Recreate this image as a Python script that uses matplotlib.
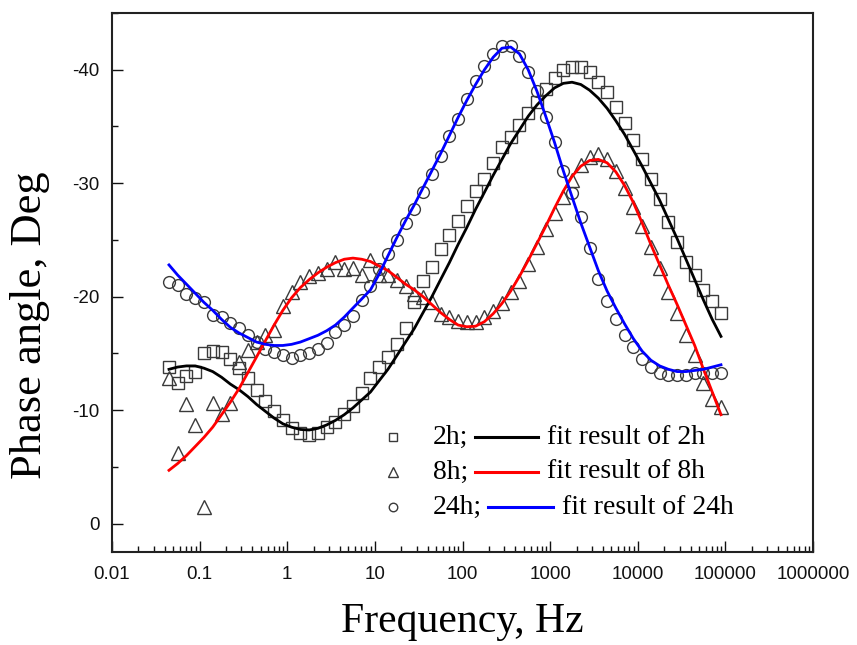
import numpy as np
import matplotlib
matplotlib.use("Agg")
import matplotlib.pyplot as plt
from matplotlib.lines import Line2D
from matplotlib.ticker import LogLocator, MultipleLocator, NullFormatter

plt.rcParams["axes.unicode_minus"] = False
plt.rcParams["font.family"] = "Liberation Sans"

# measured frequencies (Hz), shared by all three samples and the fits
FREQ = [0.0447, 0.0562, 0.0708, 0.0891,
        0.112, 0.141, 0.178, 0.224, 0.282, 0.355, 0.447, 0.562, 0.708, 0.891,
        1.12, 1.41, 1.78, 2.24, 2.82, 3.55, 4.47, 5.62, 7.08, 8.91,
        11.2, 14.1, 17.8, 22.4, 28.2, 35.5, 44.7, 56.2, 70.8, 89.1,
        112, 141, 178, 224, 282, 355, 447, 562, 708, 891,
        1122, 1413, 1778, 2239, 2818, 3548, 4467, 5623, 7079, 8913,
        11220, 14125, 17783, 22387, 28184, 35481, 44668, 56234, 70795, 89125]

# phase angle (deg), measured
P_2H = [-13.8, -12.4, -13.0, -13.4,
        -15.0, -15.2, -15.1, -14.5, -13.7, -12.8, -11.8, -10.8, -9.9, -9.1,
        -8.4, -8.0, -7.8, -8.0, -8.5, -9.0, -9.7, -10.4, -11.5, -12.8,
        -13.8, -14.7, -15.8, -17.2, -19.5, -21.4, -22.6, -24.2, -25.4, -26.7,
        -28.0, -29.3, -30.4, -31.8, -33.2, -34.1, -35.1, -36.2, -37.2, -38.3,
        -39.3, -40.0, -40.2, -40.2, -39.8, -38.9, -38.0, -36.7, -35.3, -33.8,
        -32.1, -30.4, -28.6, -26.6, -24.8, -23.1, -21.9, -20.6, -19.6, -18.6]
P_8H = [-12.8, -6.2, -10.5, -8.7,
        -1.5, -10.6, -9.7, -10.6, -14.2, -15.3, -16.0, -16.6, -17.1, -19.2,
        -20.4, -21.3, -21.8, -22.1, -22.4, -23.1, -22.4, -22.5, -21.9, -23.2,
        -21.9, -21.9, -21.5, -20.9, -20.2, -20.0, -19.5, -18.5, -18.2, -17.9,
        -17.8, -17.8, -18.2, -18.7, -19.4, -20.4, -21.4, -22.9, -24.4, -26.0,
        -27.4, -28.8, -30.3, -31.6, -32.3, -32.6, -32.1, -31.1, -29.6, -27.9,
        -26.2, -24.4, -22.5, -20.4, -18.6, -16.6, -14.9, -12.4, -11.0, -10.3]
P_24H = [-21.3, -21.0, -20.2, -19.9,
         -19.5, -18.4, -18.2, -17.7, -17.2, -16.6, -16.0, -15.4, -15.1, -14.9,
         -14.6, -14.9, -15.0, -15.4, -15.9, -16.9, -17.5, -18.3, -19.7, -20.9,
         -22.4, -23.8, -25.0, -26.5, -27.7, -29.2, -30.8, -32.4, -34.2, -35.7,
         -37.4, -39.0, -40.3, -41.4, -42.1, -42.1, -41.2, -39.8, -38.1, -35.8,
         -33.6, -31.1, -29.1, -27.0, -24.3, -21.6, -19.6, -18.0, -16.6, -15.6,
         -14.5, -13.8, -13.3, -13.1, -13.1, -13.1, -13.3, -13.3, -13.3, -13.3]

# equivalent-circuit fit results
FIT_2H = [-13.6, -13.8, -13.9, -13.9,
          -13.7, -13.4, -12.9, -12.3, -11.8, -11.2, -10.5, -9.9, -9.3, -8.8,
          -8.5, -8.3, -8.25, -8.4, -8.7, -9.1, -9.6, -10.2, -10.9, -11.6,
          -12.6, -13.6, -14.8, -16.0, -17.2, -18.6, -20.0, -21.5, -23.0, -24.6,
          -26.1, -27.7, -29.2, -30.7, -32.1, -33.5, -34.7, -35.9, -36.9, -37.7,
          -38.4, -38.8, -38.9, -38.7, -38.2, -37.5, -36.6, -35.5, -34.3, -32.9,
          -31.5, -30.0, -28.5, -26.8, -25.1, -23.3, -21.5, -19.7, -18.0, -16.5]
FIT_8H = [-4.7, -5.3, -6.0, -6.8,
          -7.6, -8.5, -9.6, -10.7, -11.9, -13.3, -14.7, -16.1, -17.5, -18.8,
          -19.9, -20.8, -21.5, -22.1, -22.6, -23.0, -23.3, -23.4, -23.3, -23.1,
          -22.7, -22.3, -21.7, -21.1, -20.6, -20.0, -19.3, -18.6, -18.0, -17.5,
          -17.35, -17.4, -17.8, -18.5, -19.4, -20.5, -21.8, -23.2, -24.7, -26.2,
          -27.8, -29.3, -30.6, -31.5, -32.0, -32.1, -31.8, -31.0, -29.8, -28.3,
          -26.5, -24.6, -22.8, -21.0, -19.3, -17.5, -15.7, -13.6, -11.6, -9.6]
FIT_24H = [-22.8, -21.9, -21.1, -20.3,
           -19.5, -18.8, -18.0, -17.3, -16.8, -16.4, -16.0, -15.8, -15.7, -15.7,
           -15.8, -16.0, -16.3, -16.6, -17.0, -17.5, -18.2, -19.0, -19.8, -20.6,
           -22.0, -23.6, -25.2, -26.7, -28.1, -29.6, -31.1, -32.6, -34.2, -35.8,
           -37.3, -38.7, -40.0, -41.1, -41.9, -42.0, -41.4, -40.0, -38.1, -35.9,
           -33.6, -31.1, -28.8, -26.5, -24.4, -22.3, -20.5, -19.0, -17.6, -16.3,
           -15.2, -14.4, -13.9, -13.6, -13.4, -13.4, -13.5, -13.6, -13.8, -14.0]

XTICKS = [0.01, 0.1, 1, 10, 100, 1000, 10000, 100000, 1000000]
XTICKLABELS = ["0.01", "0.1", "1", "10", "100", "1000", "10000", "100000", "1000000"]
YTICKS = [0, -10, -20, -30, -40]

# name, data, fit, marker, marker size, fit colour
SAMPLES = [("2h", P_2H, FIT_2H, "s", 8.0, "black"),
           ("8h", P_8H, FIT_8H, "^", 9.5, "#ff0000"),
           ("24h", P_24H, FIT_24H, "o", 8.5, "#0000ff")]

W, H = 857, 645
fig = plt.figure(figsize=(W / 100, H / 100), dpi=100)
ax = fig.add_axes([112 / W, 1 - 552 / H, (813 - 112) / W, (552 - 13) / H])

EDGE = "#3a3a3a"
for name, p, fit, mk, ms, col in SAMPLES:
    ax.plot(FREQ, p, ls="none", marker=mk, ms=ms, mfc="none", mec=EDGE,
            mew=1.0, zorder=2)
for name, p, fit, mk, ms, col in SAMPLES:
    ax.plot(FREQ, fit, color=col, lw=2.0, zorder=3)

ax.set_xscale("log")
ax.set_xlim(0.01, 1e6)
ax.set_ylim(2.5, -45)
ax.set_xticks(XTICKS)
ax.set_xticklabels(XTICKLABELS)
ax.xaxis.set_minor_locator(LogLocator(base=10, subs=np.arange(2, 10)))
ax.xaxis.set_minor_formatter(NullFormatter())
ax.set_yticks(YTICKS)
ax.yaxis.set_minor_locator(MultipleLocator(5))
ax.tick_params(which="both", direction="in", top=False, right=False,
               width=1.0, labelsize=13.5, colors="#111111")
ax.tick_params(which="major", length=8)
ax.tick_params(which="minor", length=4.3)
ax.tick_params(axis="x", pad=10)
ax.tick_params(axis="y", pad=9)
for s in ax.spines.values():
    s.set_linewidth(1.5)
    s.set_color("#222222")

serif = "Liberation Serif"
fig.text(462 / W, 1 - 622 / H, "Frequency, Hz", ha="center", va="center",
         family=serif, fontsize=30)
fig.text(30 / W, 1 - 325 / H, "Phase angle, Deg", ha="center", va="center",
         rotation=90, family=serif, fontsize=32)

# hand-built legend (marker, label; line, fit label)
rows = [(437, 475, 538, 547), (472, 475, 538, 547), (507, 488, 553, 562)]
for (name, p, fit, mk, ms, col), (ry, l0, l1, tx) in zip(SAMPLES, rows):
    yf = 1 - ry / H
    fig.add_artist(Line2D([393 / W], [yf], marker=mk, ms=ms * 0.72, mfc="none",
                          mec=EDGE, mew=1.0, ls="none"))
    fig.text(433 / W, yf, name + ";", ha="left", va="center", family=serif,
             fontsize=20)
    fig.add_artist(Line2D([l0 / W, l1 / W], [yf, yf], color=col, lw=2.2))
    fig.text(tx / W, yf, "fit result of " + name, ha="left", va="center",
             family=serif, fontsize=20)

fig.savefig("out.png", dpi=100)
